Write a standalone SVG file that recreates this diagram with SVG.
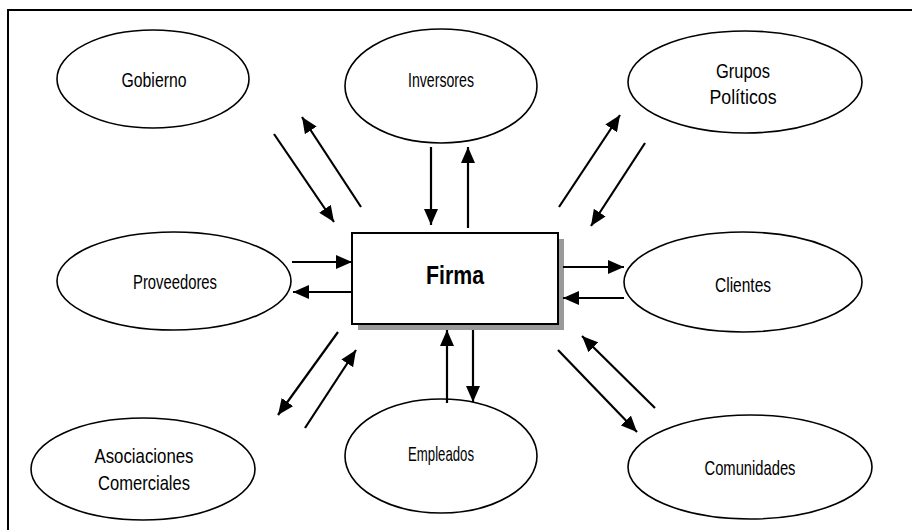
<svg xmlns="http://www.w3.org/2000/svg" width="912" height="530" viewBox="0 0 912 530">
<style>
.node ellipse{fill:#fff;stroke:#000;stroke-width:1.6}
.lbl{font-family:"Liberation Sans",Arial,sans-serif;font-size:21px;fill:#000;text-anchor:middle}
.conn line{stroke:#000;stroke-width:2.2;marker-end:url(#ah)}
</style>
<defs>
<marker id="ah" markerUnits="userSpaceOnUse" markerWidth="16" markerHeight="14" viewBox="0 0 16 14" refX="16" refY="7" orient="auto">
<path d="M0,0 L16,7 L0,14 Z" fill="#000"/>
</marker>
</defs>
<rect x="0" y="0" width="912" height="530" fill="#fff"/>
<rect id="frame" x="8" y="10" width="920" height="540" fill="none" stroke="#000" stroke-width="2"/>
<g id="gobierno" class="node"><ellipse cx="153" cy="79" rx="96" ry="49"/><text class="lbl" x="154" y="87" textLength="65" lengthAdjust="spacingAndGlyphs">Gobierno</text></g>
<g id="inversores" class="node"><ellipse cx="441" cy="86" rx="96" ry="57"/><text class="lbl" x="441" y="87" textLength="66" lengthAdjust="spacingAndGlyphs">Inversores</text></g>
<g id="grupos" class="node"><ellipse cx="745" cy="82" rx="117" ry="51"/><text class="lbl" x="743" y="78" textLength="54" lengthAdjust="spacingAndGlyphs">Grupos</text><text class="lbl" x="743" y="104" textLength="67" lengthAdjust="spacingAndGlyphs">Políticos</text></g>
<g id="proveedores" class="node"><ellipse cx="174" cy="281" rx="117" ry="49"/><text class="lbl" x="175" y="289" textLength="84" lengthAdjust="spacingAndGlyphs">Proveedores</text></g>
<g id="clientes" class="node"><ellipse cx="743" cy="282" rx="119" ry="50"/><text class="lbl" x="743" y="292" textLength="56" lengthAdjust="spacingAndGlyphs">Clientes</text></g>
<g id="asociaciones" class="node"><ellipse cx="143" cy="469" rx="112" ry="51"/><text class="lbl" x="144" y="463" textLength="99" lengthAdjust="spacingAndGlyphs">Asociaciones</text><text class="lbl" x="144" y="490" textLength="92" lengthAdjust="spacingAndGlyphs">Comerciales</text></g>
<g id="empleados" class="node"><ellipse cx="441" cy="456" rx="96" ry="57"/><text class="lbl" x="441" y="461" textLength="66" lengthAdjust="spacingAndGlyphs">Empleados</text></g>
<g id="comunidades" class="node"><ellipse cx="750" cy="467" rx="122" ry="52"/><text class="lbl" x="750" y="475" textLength="91" lengthAdjust="spacingAndGlyphs">Comunidades</text></g>
<g id="firma">
<rect x="358" y="239" width="206" height="91" fill="#999"/>
<rect x="352" y="233" width="206" height="91" fill="#fff" stroke="#000" stroke-width="2"/>
<text class="lbl" x="455" y="284" style="font-weight:bold;font-size:25px" textLength="58" lengthAdjust="spacingAndGlyphs">Firma</text>
</g>
<g id="connectors" class="conn">
<line x1="274" y1="134" x2="334" y2="222"/>
<line x1="361" y1="207" x2="302" y2="117"/>
<line x1="431" y1="147" x2="431" y2="225"/>
<line x1="468" y1="228" x2="468" y2="147"/>
<line x1="559" y1="207" x2="620" y2="115"/>
<line x1="645" y1="143" x2="591" y2="226"/>
<line x1="292" y1="262" x2="352" y2="262"/>
<line x1="352" y1="292" x2="293" y2="292"/>
<line x1="563" y1="267" x2="624" y2="267"/>
<line x1="624" y1="298" x2="563" y2="298"/>
<line x1="338" y1="332" x2="278" y2="415"/>
<line x1="305" y1="428" x2="356" y2="350"/>
<line x1="447" y1="403" x2="447" y2="330"/>
<line x1="473" y1="330" x2="473" y2="402"/>
<line x1="558" y1="350" x2="637" y2="432"/>
<line x1="655" y1="408" x2="582" y2="336"/>
</g>
</svg>
